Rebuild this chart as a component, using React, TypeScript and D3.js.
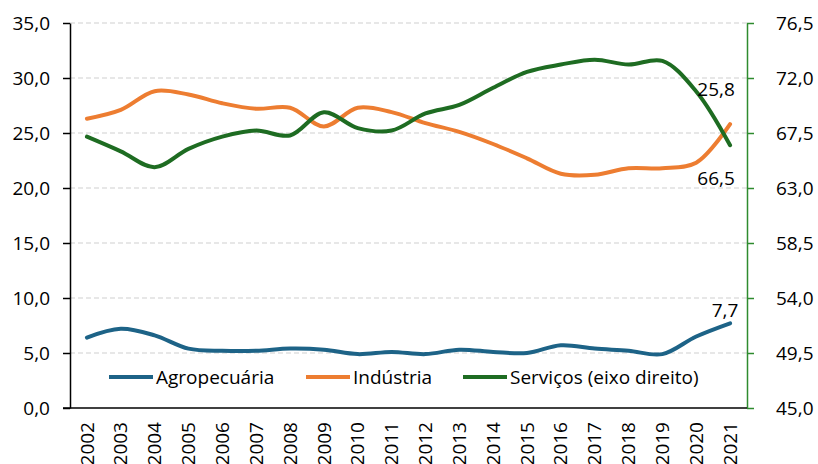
import React, { useEffect, useRef } from 'react'
import * as d3 from 'd3'

const years = [
  '2002', '2003', '2004', '2005', '2006', '2007', '2008', '2009', '2010', '2011',
  '2012', '2013', '2014', '2015', '2016', '2017', '2018', '2019', '2020', '2021',
]
const agropecuaria = [6.4, 7.2, 6.6, 5.4, 5.2, 5.2, 5.4, 5.3, 4.9, 5.1, 4.9, 5.3, 5.1, 5.0, 5.7, 5.4, 5.2, 4.9, 6.5, 7.7]
const industria = [26.3, 27.1, 28.8, 28.5, 27.7, 27.2, 27.3, 25.6, 27.3, 26.9, 25.9, 25.1, 24.0, 22.7, 21.3, 21.2, 21.8, 21.8, 22.3, 25.8]
const servicos = [67.2, 66.0, 64.7, 66.2, 67.2, 67.7, 67.3, 69.2, 67.9, 67.7, 69.1, 69.8, 71.2, 72.5, 73.1, 73.5, 73.1, 73.4, 70.9, 66.5]
const leftTicks = [0, 5, 10, 15, 20, 25, 30, 35]
const rightTicks = [45, 49.5, 54, 58.5, 63, 67.5, 72, 76.5]
const seriesNames = ['Agropecuária', 'Indústria', 'Serviços (eixo direito)']

const FONT = "'Open Sans', sans-serif"
const FS = 19
const BLUE = '#1d6387'
const ORANGE = '#ed7d31'
const GREEN = '#1e6c22'
const AXIS_GREEN = '#2e8b2e'

const fmt = (v: number) => v.toFixed(1).replace('.', ',')

export default function App() {
  const svgRef = useRef<SVGSVGElement>(null)

  useEffect(() => {
    if (!svgRef.current) return
    const svg = d3.select(svgRef.current)
    svg.selectAll('*').remove()

    const left = 70
    const right = 747
    const top = 23
    const bottom = 408

    const x = d3.scaleBand().domain(years).range([left, right])
    const yL = d3.scaleLinear().domain([0, 35]).range([bottom, top])
    const yR = d3.scaleLinear().domain([45, 76.5]).range([bottom, top])
    const cx = (d: string) => (x(d) || 0) + x.bandwidth() / 2

    // Gridlines
    svg
      .append('g')
      .selectAll('line')
      .data(leftTicks.filter((t) => t > 0))
      .join('line')
      .attr('x1', left)
      .attr('x2', right)
      .attr('y1', (d) => yL(d))
      .attr('y2', (d) => yL(d))
      .attr('stroke', '#cfcfcf')
      .attr('stroke-width', 1)
      .attr('stroke-dasharray', '5,3')

    // Left axis
    const gL = svg
      .append('g')
      .attr('transform', `translate(${left},0)`)
      .call(d3.axisLeft(yL).tickValues(leftTicks).tickSize(7).tickSizeOuter(0).tickPadding(13).tickFormat((d) => fmt(+d)))
    gL.select('.domain').attr('stroke', '#000').attr('stroke-width', 1.5)
    gL.selectAll('line').attr('stroke', '#000').attr('stroke-width', 1.5)
    gL.selectAll('text').attr('font-family', FONT).attr('font-size', FS).attr('fill', '#000')

    // Right axis
    const gR = svg
      .append('g')
      .attr('transform', `translate(${right},0)`)
      .call(d3.axisRight(yR).tickValues(rightTicks).tickSize(7).tickSizeOuter(0).tickPadding(22).tickFormat((d) => fmt(+d)))
    gR.select('.domain').attr('stroke', AXIS_GREEN).attr('stroke-width', 1.5)
    gR.selectAll('line').attr('stroke', AXIS_GREEN).attr('stroke-width', 1.5)
    gR.selectAll('text').attr('font-family', FONT).attr('font-size', FS).attr('fill', '#000')

    // Bottom axis
    const gB = svg
      .append('g')
      .attr('transform', `translate(0,${bottom})`)
      .call(d3.axisBottom(x).tickSize(0).tickSizeOuter(0).tickPadding(0))
    gB.select('.domain').remove()
    gB.append('line').attr('x1', left - 7).attr('x2', right).attr('stroke', '#000').attr('stroke-width', 1.5)
    gB.selectAll('.tick text')
      .attr('font-family', FONT)
      .attr('font-size', FS)
      .attr('fill', '#000')
      .attr('transform', 'rotate(-90)')
      .attr('text-anchor', 'end')
      .attr('x', -14)
      .attr('y', 0)
      .attr('dy', '0.35em')

    // Lines
    const lineL = d3
      .line<number>()
      .x((_, i) => cx(years[i]))
      .y((d) => yL(d))
      .curve(d3.curveCatmullRom.alpha(0.5))
    const lineR = d3
      .line<number>()
      .x((_, i) => cx(years[i]))
      .y((d) => yR(d))
      .curve(d3.curveCatmullRom.alpha(0.5))

    const series = [
      { values: agropecuaria, color: BLUE, gen: lineL },
      { values: industria, color: ORANGE, gen: lineL },
      { values: servicos, color: GREEN, gen: lineR },
    ]
    series.forEach((s) => {
      svg
        .append('path')
        .attr('d', s.gen(s.values))
        .attr('fill', 'none')
        .attr('stroke', s.color)
        .attr('stroke-width', 4)
        .attr('stroke-linecap', 'round')
    })

    // Data labels for the last year
    const last = years.length - 1
    const labelX = cx(years[last]) - 14
    svg.append('text')
      .attr('x', labelX)
      .attr('y', yL(industria[last]) - 28)
      .attr('text-anchor', 'middle')
      .attr('font-family', FONT)
      .attr('font-size', FS)
      .text(fmt(industria[last]))
    svg.append('text')
      .attr('x', labelX)
      .attr('y', yR(servicos[last]) + 40)
      .attr('text-anchor', 'middle')
      .attr('font-family', FONT)
      .attr('font-size', FS)
      .text(fmt(servicos[last]))
    svg.append('text')
      .attr('x', cx(years[last]) - 5)
      .attr('y', yL(agropecuaria[last]) - 6)
      .attr('text-anchor', 'middle')
      .attr('font-family', FONT)
      .attr('font-size', FS)
      .text(fmt(agropecuaria[last]))

    // Legend
    const legendY = 377
    const legendX = [109, 306, 463]
    const legend = svg.append('g')
    seriesNames.forEach((name, i) => {
      legend.append('line')
        .attr('x1', legendX[i])
        .attr('x2', legendX[i] + 44)
        .attr('y1', legendY)
        .attr('y2', legendY)
        .attr('stroke', series[i].color)
        .attr('stroke-width', 4)
      legend.append('text')
        .attr('x', legendX[i] + 47)
        .attr('y', legendY)
        .attr('dy', '0.35em')
        .attr('font-family', FONT)
        .attr('font-size', FS)
        .attr('fill', '#000')
        .text(name)
    })
  }, [])

  return (
    <div style={{ position: 'absolute', left: 0, top: 0 }}>
      <svg ref={svgRef} width={818} height={464} style={{ display: 'block', background: '#fff' }}></svg>
    </div>
  )
}
